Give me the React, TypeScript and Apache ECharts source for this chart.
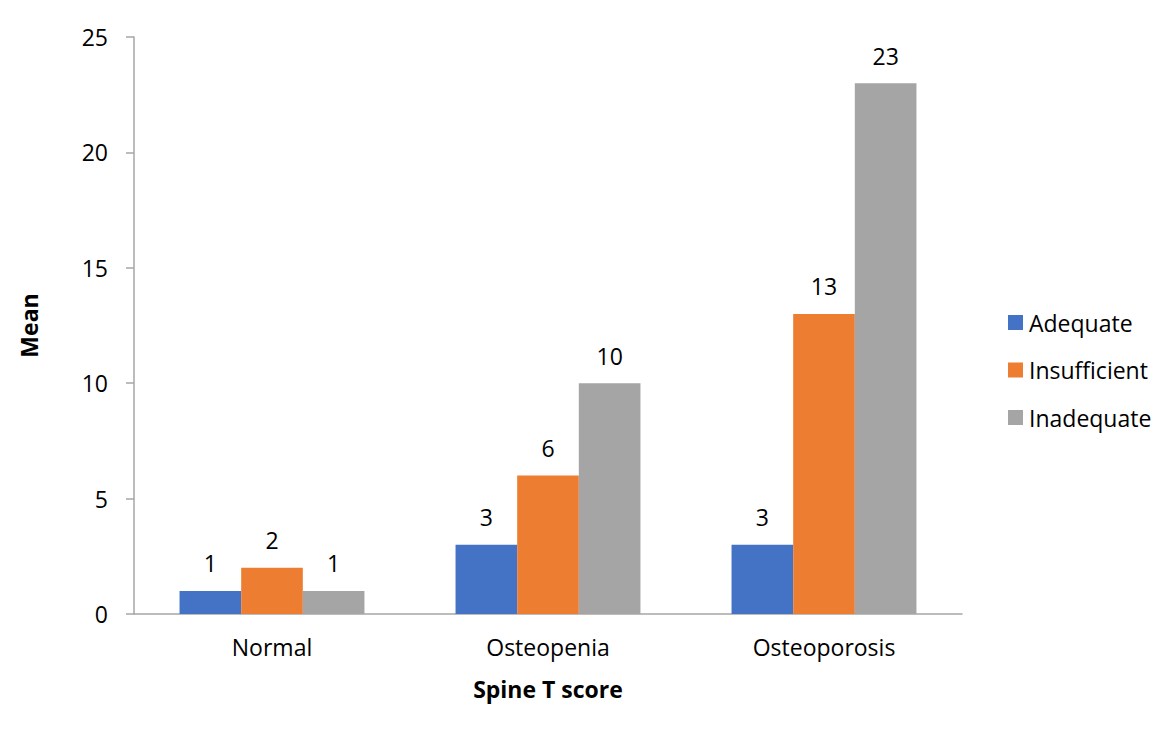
import React, { useEffect, useRef } from "react";
import * as echarts from "echarts";

const categories = ["Normal", "Osteopenia", "Osteoporosis"];
const adequate = [1, 3, 3];
const insufficient = [2, 6, 13];
const inadequate = [1, 10, 23];
const seriesNames = ["Adequate", "Insufficient", "Inadequate"];
const colors = ["#4472C4", "#ED7D31", "#A5A5A5"];

const FONT = "'Open Sans', 'Noto Sans', sans-serif";
const SIZE = 23;

export default function App() {
  const ref = useRef<HTMLDivElement>(null);

  useEffect(() => {
    if (!ref.current) return;
    const chart = echarts.init(ref.current, null, { renderer: "svg" });
    const values = [adequate, insufficient, inadequate];
    chart.setOption({
      animation: false,
      backgroundColor: "#ffffff",
      textStyle: { fontFamily: FONT },
      grid: { left: 126, top: 29, width: 828, height: 577, containLabel: false },
      legend: {
        orient: "vertical",
        left: 995,
        top: 298,
        itemWidth: 15,
        itemHeight: 15,
        itemGap: 24.5,
        icon: "rect",
        data: seriesNames,
        textStyle: {
          fontFamily: FONT,
          fontSize: SIZE,
          color: "#000",
          lineHeight: 23,
          padding: [0, 0, 0, 1],
        },
      },
      xAxis: {
        type: "category",
        data: categories,
        name: "Spine T score",
        nameLocation: "middle",
        nameGap: 63,
        nameTextStyle: { fontFamily: FONT, fontSize: SIZE, fontWeight: "bold", color: "#000" },
        axisLine: { show: true, lineStyle: { color: "#a6a6a6", width: 1.5 } },
        axisTick: { show: false },
        axisLabel: { margin: 21, fontFamily: FONT, fontSize: SIZE, color: "#000" },
      },
      yAxis: {
        type: "value",
        min: 0,
        max: 25,
        interval: 5,
        name: "Mean",
        nameLocation: "middle",
        nameGap: 94,
        nameTextStyle: { fontFamily: FONT, fontSize: SIZE, fontWeight: "bold", color: "#000" },
        axisLine: { show: true, lineStyle: { color: "#a6a6a6", width: 1.5 } },
        axisTick: { show: true, inside: false, length: 8, lineStyle: { color: "#a6a6a6", width: 1.5 } },
        splitLine: { show: false },
        axisLabel: { margin: 26, fontFamily: FONT, fontSize: SIZE, color: "#000" },
      },
      series: seriesNames.map((name, i) => ({
        name,
        type: "bar",
        data: values[i],
        barGap: "0%",
        barCategoryGap: "33%",
        itemStyle: { color: colors[i] },
        label: {
          show: true,
          position: "top",
          distance: 16,
          fontFamily: FONT,
          fontSize: SIZE,
          color: "#000",
        },
      })),
    });
    return () => chart.dispose();
  }, []);

  return (
    <div
      style={{
        marginLeft: -1,
        marginTop: -1,
        width: 1164,
        height: 726,
        borderLeft: "1px solid #a6a6a6",
        borderTop: "1px solid #a6a6a6",
        overflow: "hidden",
      }}
    >
      <div ref={ref} style={{ width: 1164, height: 726 }} />
    </div>
  );
}
